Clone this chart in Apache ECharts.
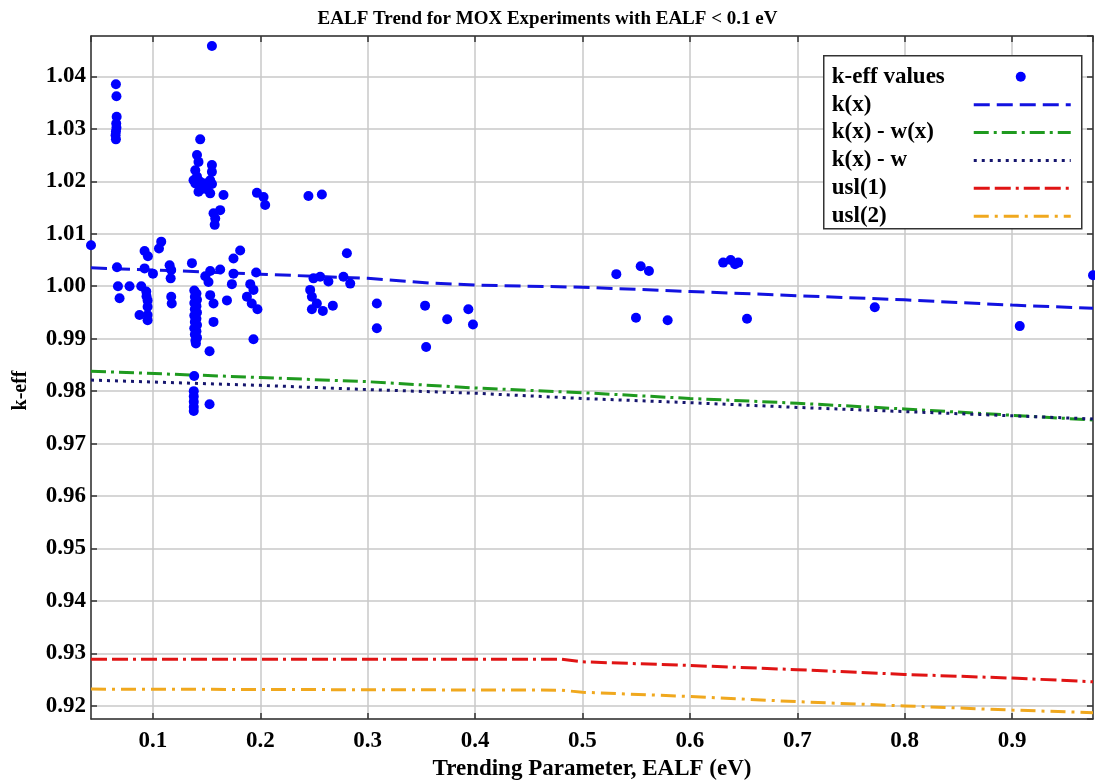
<!DOCTYPE html>
<html><head><meta charset="utf-8">
<script src="https://cdn.jsdelivr.net/npm/echarts@6/dist/echarts.min.js"></script>
<style>html,body{margin:0;padding:0;background:#fff}#c{width:1095px;height:784px}</style>
</head><body><div id="c"></div>
<script>
const chartTitle = 'EALF Trend for MOX Experiments with EALF < 0.1 eV';
const xName = 'Trending Parameter, EALF (eV)';
const yName = 'k-eff';
const xRange = [0.0423, 0.9754];
const yRange = [0.9175, 1.0477];
const seriesNames = ['k-eff values', 'k(x)', 'k(x) - w(x)', 'k(x) - w', 'usl(1)', 'usl(2)'];

// k-eff values (EALF, k-eff)
const keffX = [
  0.0423,
  0.0655, 0.0660, 0.0662, 0.0658, 0.0660, 0.0655, 0.0652, 0.0655,
  0.0665, 0.0674, 0.0689, 0.0782, 0.0891, 0.0938, 0.0940, 0.0950, 0.0950, 0.0950, 0.0875, 0.0950,
  0.0922, 0.0953, 0.0922, 0.1000, 0.1077, 0.1056, 0.1155, 0.1170, 0.1165, 0.1170, 0.1175,
  0.1363, 0.1487, 0.1517, 0.1533, 0.1626, 0.1750, 0.1812, 0.1750, 0.1961, 0.1735, 0.1906, 0.1936,
  0.1533, 0.1564, 0.1689, 0.1875, 0.1920, 0.1973, 0.1564, 0.1936, 0.1527,
  0.1385, 0.1405, 0.1390, 0.1410, 0.1385, 0.1405, 0.1390, 0.1410, 0.1385, 0.1405, 0.1390, 0.1410,
  0.1385, 0.1405, 0.1390, 0.1410, 0.1395, 0.1400,
  0.1384, 0.1380, 0.1380, 0.1380, 0.1380, 0.1380, 0.1527,
  0.1440, 0.1410, 0.1424, 0.1394, 0.1549, 0.1549, 0.1378, 0.1440, 0.1487, 0.1533, 0.1424, 0.1533,
  0.1657, 0.1626, 0.1564, 0.1580, 0.1575, 0.1549, 0.1410, 0.1395, 0.1550, 0.1500, 0.1450,
  0.1968, 0.2030, 0.2045, 0.2448, 0.2573,
  0.2806, 0.2557, 0.2495, 0.2634, 0.2774, 0.2837, 0.2464, 0.2480, 0.2526, 0.2480, 0.2582, 0.2675,
  0.3085, 0.3085, 0.3534, 0.3544, 0.3740, 0.3937, 0.3980,
  0.5315, 0.5542, 0.5619, 0.5498, 0.5793, 0.6310, 0.6380, 0.6420, 0.6450, 0.6532,
  0.7722, 0.9072, 0.9754
];
const keffY = [
  1.0078,
  1.0385, 1.0362, 1.0323, 1.0310, 1.0302, 1.0295, 1.0288, 1.0280,
  1.0036, 1.0000, 0.9977, 1.0000, 1.0000, 0.9990, 0.9981, 0.9973, 0.9961, 0.9945, 0.9945, 0.9935,
  1.0067, 1.0057, 1.0034, 1.0024, 1.0085, 1.0072, 1.0040, 1.0031, 1.0015, 0.9980, 0.9967,
  1.0044, 1.0019, 1.0008, 1.0029, 1.0032, 1.0053, 1.0068, 1.0024, 1.0026, 1.0004, 1.0004, 0.9993,
  0.9983, 0.9967, 0.9973, 0.9980, 0.9967, 0.9956, 0.9932, 0.9899, 0.9876,
  0.9992, 0.9986, 0.9980, 0.9974, 0.9968, 0.9962, 0.9956, 0.9950, 0.9944, 0.9938, 0.9932, 0.9926,
  0.9920, 0.9914, 0.9908, 0.9902, 0.9896, 0.9891,
  0.9829, 0.9800, 0.9790, 0.9780, 0.9770, 0.9762, 0.9775,
  1.0280, 1.0250, 1.0237, 1.0221, 1.0231, 1.0218, 1.0202, 1.0199, 1.0196, 1.0202, 1.0180, 1.0177,
  1.0174, 1.0145, 1.0139, 1.0129, 1.0117, 1.0458, 1.0209, 1.0196, 1.0195, 1.0185, 1.0185,
  1.0178, 1.0170, 1.0155, 1.0172, 1.0175,
  1.0063, 1.0018, 1.0015, 1.0009, 1.0018, 1.0005, 0.9993, 0.9980, 0.9967, 0.9956, 0.9953, 0.9963,
  0.9967, 0.9920, 0.9963, 0.9884, 0.9937, 0.9956, 0.9927,
  1.0023, 1.0038, 1.0029, 0.9940, 0.9935, 1.0045, 1.0050, 1.0042, 1.0045, 0.9938,
  0.9960, 0.9924, 1.0021
];

// k(x)
const kxX = [0.0423, 0.1255, 0.2, 0.3, 0.358, 0.405, 0.5, 0.6, 0.7, 0.8, 0.9, 0.9754];
const kxY = [1.0035, 1.0029, 1.0023, 1.0015, 1.0006, 1.0002, 0.9998, 0.9990, 0.9982, 0.9974, 0.9964, 0.9958];
// k(x) - w(x)
const kwxX = [0.0423, 0.2, 0.3, 0.4, 0.5, 0.6, 0.7, 0.8, 0.9, 0.9754];
const kwxY = [0.9838, 0.9826, 0.9818, 0.9806, 0.9797, 0.9786, 0.9777, 0.9766, 0.9754, 0.9745];
// k(x) - w
const kwX = [0.0423, 0.2, 0.3, 0.4, 0.5, 0.6, 0.7, 0.8, 0.9, 0.9754];
const kwY = [0.9821, 0.9811, 0.9803, 0.9796, 0.9786, 0.9778, 0.9769, 0.9761, 0.9753, 0.9747];
// usl(1)
const usl1X = [0.0423, 0.48, 0.5, 0.6, 0.7, 0.8, 0.9, 0.9754];
const usl1Y = [0.9289, 0.9289, 0.9284, 0.9277, 0.9269, 0.9260, 0.9253, 0.9246];
// usl(2)
const usl2X = [0.0423, 0.48, 0.5, 0.6, 0.7, 0.8, 0.9, 0.9754];
const usl2Y = [0.9232, 0.9230, 0.9226, 0.9218, 0.9208, 0.9200, 0.9192, 0.9187];

const zip = (xs, ys) => xs.map((x, i) => [x, ys[i]]);
const FONT = 'Liberation Serif';

const lineStyles = [
  null,
  { color: '#1212e0', width: 3, type: [16, 7] },
  { color: '#1f9a1f', width: 3, type: [15, 5, 3, 5] },
  { color: '#16166e', width: 3, type: [3, 5] },
  { color: '#e01414', width: 3, type: [16, 5, 16, 5, 3, 5] },
  { color: '#f0a81e', width: 3, type: [15, 6, 3, 6] }
];
const lineData = [null, zip(kxX, kxY), zip(kwxX, kwxY), zip(kwX, kwY), zip(usl1X, usl1Y), zip(usl2X, usl2Y)];

const series = [];
for (let i = 1; i < 6; i++) {
  series.push({
    name: seriesNames[i], type: 'line', data: lineData[i], showSymbol: false,
    lineStyle: lineStyles[i], z: 2, animation: false, silent: true
  });
}
series.push({
  name: seriesNames[0], type: 'scatter', data: zip(keffX, keffY),
  symbolSize: 10, itemStyle: { color: '#0000ff', opacity: 1 }, z: 5, animation: false
});

// legend drawn as a graphic group (labels left, keys right)
const legendChildren = [{
  type: 'rect', z: 100, shape: { x: 0, y: 0, width: 258, height: 173 },
  style: { fill: '#fff', stroke: '#333', lineWidth: 1.5 }
}];
seriesNames.forEach((nm, i) => {
  const cy = 21 + i * 27.9;
  legendChildren.push({
    type: 'text', x: 8, y: cy, z: 101,
    style: { text: nm, font: 'bold 23px "Liberation Serif"', fill: '#000', verticalAlign: 'middle', textAlign: 'left' }
  });
  if (i === 0) {
    legendChildren.push({ type: 'circle', z: 101, shape: { cx: 197, cy: cy, r: 5 }, style: { fill: '#0000ff' } });
  } else {
    const ls = lineStyles[i];
    legendChildren.push({
      type: 'line', z: 101, shape: { x1: 150, y1: cy, x2: 247, y2: cy },
      style: { stroke: ls.color, lineWidth: 3, lineDash: ls.type }
    });
  }
});

const labelStyle = { fontFamily: FONT, fontWeight: 'bold', fontSize: 23, color: '#000' };
const axisLineStyle = { lineStyle: { color: '#333', width: 1.5 } };
const splitLineStyle = { show: true, lineStyle: { color: '#c8c8c8', width: 1.5 } };

const chart = echarts.init(document.getElementById('c'), null, { renderer: 'canvas' });
chart.setOption({
  backgroundColor: '#fff',
  animation: false,
  title: {
    text: chartTitle, left: 'center', top: 5,
    textStyle: { fontFamily: FONT, fontWeight: 'bold', fontSize: 19, color: '#000' }
  },
  grid: { left: 91, right: 2, top: 36, bottom: 65, containLabel: false, outerBoundsMode: 'none' },
  xAxis: [{
    type: 'value', min: xRange[0], max: xRange[1], splitNumber: 9, minInterval: 0.1, maxInterval: 0.1,
    name: xName, nameLocation: 'middle', nameGap: 39,
    nameTextStyle: { fontFamily: FONT, fontWeight: 'bold', fontSize: 23, color: '#000' },
    axisLine: axisLineStyle, axisTick: { inside: true, length: 6, lineStyle: { color: '#333', width: 1.5 } },
    splitLine: splitLineStyle,
    axisLabel: Object.assign({ margin: 11, showMinLabel: false, showMaxLabel: false,
      formatter: v => Math.abs(v * 10 - Math.round(v * 10)) < 1e-6 ? v.toFixed(1) : '' }, labelStyle)
  }, {
    type: 'value', position: 'top', min: xRange[0], max: xRange[1], splitNumber: 9, minInterval: 0.1, maxInterval: 0.1,
    axisLine: axisLineStyle, axisTick: { inside: true, length: 6, lineStyle: { color: '#333', width: 1.5 } },
    splitLine: { show: false }, axisLabel: { show: false }
  }],
  yAxis: [{
    type: 'value', min: yRange[0], max: yRange[1], splitNumber: 13, minInterval: 0.01, maxInterval: 0.01,
    name: yName, nameLocation: 'middle', nameGap: 60, nameRotate: 90,
    nameTextStyle: { fontFamily: FONT, fontWeight: 'bold', fontSize: 20, color: '#000', padding: [0, 26, 0, 0] },
    axisLine: axisLineStyle, axisTick: { inside: true, length: 6, lineStyle: { color: '#333', width: 1.5 } },
    splitLine: splitLineStyle,
    axisLabel: Object.assign({ margin: 5, showMinLabel: false, showMaxLabel: false,
      formatter: v => Math.abs(v * 100 - Math.round(v * 100)) < 1e-6 ? v.toFixed(2) : '' }, labelStyle)
  }, {
    type: 'value', position: 'right', min: yRange[0], max: yRange[1], splitNumber: 13, minInterval: 0.01, maxInterval: 0.01,
    axisLine: axisLineStyle, axisTick: { inside: true, length: 6, lineStyle: { color: '#333', width: 1.5 } },
    splitLine: { show: false }, axisLabel: { show: false }
  }],
  series: series,
  graphic: [{ type: 'group', left: 823, top: 55, z: 100, children: legendChildren }]
});
</script>
</body></html>
